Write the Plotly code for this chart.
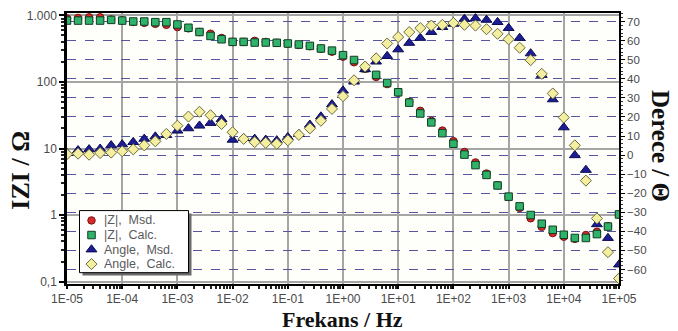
import plotly.graph_objects as go

# ---------------- data ----------------
freq = [1.0e-5, 1.585e-5, 2.512e-5, 3.981e-5, 6.310e-5,
        1.0e-4, 1.585e-4, 2.512e-4, 3.981e-4, 6.310e-4,
        1.0e-3, 1.585e-3, 2.512e-3, 3.981e-3, 6.310e-3,
        1.0e-2, 1.585e-2, 2.512e-2, 3.981e-2, 6.310e-2,
        1.0e-1, 1.585e-1, 2.512e-1, 3.981e-1, 6.310e-1,
        1.0e0, 1.585e0, 2.512e0, 3.981e0, 6.310e0,
        1.0e1, 1.585e1, 2.512e1, 3.981e1, 6.310e1,
        1.0e2, 1.585e2, 2.512e2, 3.981e2, 6.310e2,
        1.0e3, 1.585e3, 2.512e3, 3.981e3, 6.310e3,
        1.0e4, 1.585e4, 2.512e4, 3.981e4, 6.310e4,
        1.0e5]

z_msd = [900, 918, 940, 940, 870, 845, 800, 774, 748, 722,
         668, 640, 564, 532, 459, 401, 401, 415, 400, 388,
         375, 360, 345, 315, 285, 240, 198, 158, 119, 93,
         69, 50, 36.8, 26, 18.6, 12.9, 8.87, 6.17, 4.2, 2.8,
         1.87, 1.28, 0.893, 0.664, 0.536, 0.472, 0.438, 0.50, 0.56, 0.68,
         1.02]

z_calc = [838, 838, 838, 838, 858, 838, 811, 811, 793, 793,
          731, 653, 564, 492, 439, 401, 401, 392, 392, 388,
          379, 366, 349, 319, 296, 253, 214, 161, 128, 96.7,
          70, 48.9, 33.6, 24.7, 17.0, 11.8, 8.1, 5.63, 4.01, 2.78,
          1.89, 1.35, 1.0, 0.74, 0.60, 0.505, 0.452, 0.452, 0.517, 0.671,
          1.02]

ang_msd = [1.0, 2.5, 3.0, 3.3, 5.1, 5.6, 6.8, 8.5, 9.7, 10.5,
           12.8, 14.0, 15.4, 16.8, 18.8, 8.0, 8.9, 8.5, 8.0, 7.7,
           9.4, 11.0, 15.9, 20.2, 26.6, 33.8, 38.5, 45.0, 49.0, 51.9,
           55.4, 58.8, 61.4, 64.5, 67.1, 68.8, 71.4, 71.7, 70.9, 69.7,
           66.6, 61.4, 53.3, 42.0, 29.2, 14.5, -0.1, -7.8, -36.3, -43.5,
           -57.4]

ang_calc = [0.5, 0.75, 0.2, 1.1, 1.3, 2.0, 3.0, 5.1, 7.2, 11.1,
            15.4, 20.2, 22.7, 20.9, 16.3, 12.0, 8.5, 6.8, 6.4, 5.9,
            7.7, 10.6, 14.0, 18.0, 24.2, 30.9, 39.2, 46.4, 50.7, 58.5,
            61.9, 64.5, 66.6, 67.9, 68.3, 69.3, 68.3, 67.9, 66.0, 63.6,
            60.7, 56.3, 49.8, 42.6, 32.3, 19.7, 5.1, -13.4, -33.2, -50.9,
            -64.7]

x_tickvals = [1e-5, 1e-4, 1e-3, 1e-2, 1e-1, 1e0, 1e1, 1e2, 1e3, 1e4, 1e5]
x_ticktext = ["1E-05", "1E-04", "1E-03", "1E-02", "1E-01", "1E+00",
              "1E+01", "1E+02", "1E+03", "1E+04", "1E+05"]
z_tickvals = [0.1, 1, 10, 100, 1000]
z_ticktext = ["0,1", "1", "10", "100", "1.000"]
ang_tickvals = [70, 60, 50, 40, 30, 20, 10, 0, -10, -20, -30, -40, -50, -60]

series_names = ["|Z|,\u00a0 Msd.", "|Z|,\u00a0 Calc.", "Angle,\u00a0 Msd.", "Angle,\u00a0 Calc."]

# ---------------- styles ----------------
styles = [
    dict(symbol="circle", size=7.5, color="#d42a2a", line=dict(color="#7a1212", width=1)),
    dict(symbol="square", size=7.5, color="#2fb36a", line=dict(color="#123d22", width=1)),
    dict(symbol="triangle-up", size=9.5, color="#1c1c94", line=dict(color="#0b0b50", width=1)),
    dict(symbol="diamond", size=8.5, color="#f4efa0", line=dict(color="#6d6b3c", width=1)),
]

W_FIG, H_FIG = 678, 331
L, R, T, B = 67, 59, 9, 47
PW, PH = W_FIG - L - R, H_FIG - T - B


def px(xp):
    return (xp - L) / PW


def py(yp):
    return (H_FIG - B - yp) / PH


fig = go.Figure()

series = [(z_msd, "y"), (z_calc, "y"), (ang_msd, "y2"), (ang_calc, "y2")]
for (vals, ax), st, nm in zip(series, styles, series_names):
    fig.add_trace(go.Scatter(x=freq, y=vals, mode="markers", name=nm,
                             marker=st, xaxis="x", yaxis=ax,
                             showlegend=False))

# ---------------- custom legend (overlay axes in paper units) ----------------
bx0, bx1, by0, by1 = 79.5, 188.5, 209.5, 272.5
sh = 3
fig.add_trace(go.Scatter(
    x=[px(bx0 + sh), px(bx1 + sh), px(bx1 + sh), px(bx0 + sh), px(bx0 + sh)],
    y=[py(by0 + sh), py(by0 + sh), py(by1 + sh), py(by1 + sh), py(by0 + sh)],
    mode="lines", fill="toself", fillcolor="#6a6a6a", line=dict(width=0),
    xaxis="x2", yaxis="y3", showlegend=False, hoverinfo="skip"))
fig.add_trace(go.Scatter(
    x=[px(bx0), px(bx1), px(bx1), px(bx0), px(bx0)],
    y=[py(by0), py(by0), py(by1), py(by1), py(by0)],
    mode="lines", fill="toself", fillcolor="white",
    line=dict(color="black", width=1),
    xaxis="x2", yaxis="y3", showlegend=False, hoverinfo="skip"))

row_y = [219.5, 234.3, 249.0, 263.8]
for st, ry in zip(styles, row_y):
    fig.add_trace(go.Scatter(x=[px(91.5)], y=[py(ry)], mode="markers",
                             marker=st, xaxis="x2", yaxis="y3",
                             showlegend=False, hoverinfo="skip"))

annotations = []
for nm, ry in zip(series_names, row_y):
    annotations.append(dict(text=nm, x=px(102), y=py(ry), xref="paper", yref="paper",
                            xanchor="left", yanchor="middle", showarrow=False,
                            font=dict(family="Liberation Sans, Arial", size=12.5, color="#5a5a5a")))

serif = "Liberation Serif, Times New Roman, serif"
annotations.append(dict(text="Frekans / Hz", x=px(342), y=py(320), xref="paper", yref="paper",
                        xanchor="center", yanchor="middle", showarrow=False,
                        font=dict(family=serif, size=22, color="#111111", weight="bold")))
annotations.append(dict(text="IZI / \u03a9", x=px(21), y=py(169), xref="paper", yref="paper",
                        xanchor="center", yanchor="middle", showarrow=False, textangle=-90,
                        font=dict(family=serif, size=26, color="#111111", weight="bold")))
annotations.append(dict(text="Derece / \u0398", x=px(661), y=py(144), xref="paper", yref="paper",
                        xanchor="center", yanchor="middle", showarrow=False, textangle=90,
                        font=dict(family=serif, size=25, color="#111111", weight="bold")))

tick_font = dict(family="Liberation Sans, Arial", size=12, color="#4a4a4a")
grid_gray = "#a5a5a5"

fig.update_layout(
    width=W_FIG, height=H_FIG,
    margin=dict(l=L, r=R, t=T, b=B, pad=0),
    paper_bgcolor="white",
    plot_bgcolor="#fefefb",
    showlegend=False,
    annotations=annotations,
    xaxis=dict(type="log", range=[-5, 5], tickmode="array", tickvals=x_tickvals,
               ticktext=x_ticktext, tickfont=tick_font, ticks="outside", ticklen=3,
               tickcolor="black", tickwidth=1.5,
               showline=True, linecolor="black", linewidth=2, mirror=True,
               showgrid=True, gridcolor=grid_gray, gridwidth=1.5,
               minor=dict(ticks="outside", ticklen=3, tickcolor="#222", dtick="D1",
                          showgrid=False),
               zeroline=False, fixedrange=True),
    yaxis=dict(type="log", range=[-1.037, 3.037], tickmode="array", tickvals=z_tickvals,
               ticktext=z_ticktext, tickfont=tick_font, ticks="outside", ticklen=5,
               tickcolor="black", tickwidth=1.5,
               showline=True, linecolor="black", linewidth=2.5,
               showgrid=True, gridcolor=grid_gray, gridwidth=1.5,
               minor=dict(ticks="outside", ticklen=3, tickcolor="#222", dtick="D1",
                          showgrid=False),
               zeroline=False, fixedrange=True),
    yaxis2=dict(overlaying="y", side="right", anchor="x", range=[-67.6, 74.5],
                tickmode="array", tickvals=ang_tickvals,
                tickfont=dict(family="Liberation Sans, Arial", size=11.5, color="#4a4a4a"),
                ticks="outside", ticklen=4, tickcolor="black",
                showline=True, linecolor="black", linewidth=1.5,
                showgrid=True, gridcolor="#5555a0", gridwidth=1, griddash="dash",
                minor=dict(ticks="outside", ticklen=2, dtick=2, tickcolor="#333",
                           showgrid=False),
                zeroline=False, fixedrange=True),
    xaxis2=dict(overlaying="x", anchor="y3", range=[0, 1], visible=False, fixedrange=True),
    yaxis3=dict(overlaying="y", anchor="x2", range=[0, 1], visible=False, fixedrange=True),
)

fig.write_html("out.html")
